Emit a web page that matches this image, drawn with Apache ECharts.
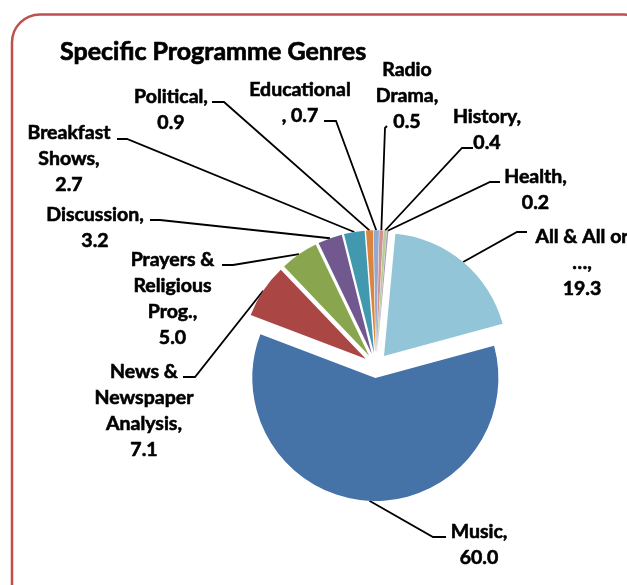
<!DOCTYPE html>
<html>
<head>
<meta charset="utf-8">
<title>Specific Programme Genres</title>
<script src="https://cdn.jsdelivr.net/npm/echarts@6/dist/echarts.min.js"></script>
<style>
  html, body { margin: 0; padding: 0; background: #ffffff; }
  #chart { width: 627px; height: 585px; }
</style>
</head>
<body>
<div id="chart"></div>
<script>
// ---- data -------------------------------------------------------------
const genres = [
  'Music', 'News & Newspaper Analysis', 'Prayers & Religious Prog.', 'Discussion',
  'Breakfast Shows', 'Political', 'Educational', 'Radio Drama', 'History', 'Health',
  'All & All or ...'
];
const shares = [60.0, 7.1, 5.0, 3.2, 2.7, 0.9, 0.7, 0.5, 0.4, 0.2, 19.3];

// wrapped label heads, the value is appended by the formatter
const labelHeads = [
  'Music,\n', 'News &\nNewspaper\nAnalysis,\n', 'Prayers &\nReligious\nProg.,\n',
  'Discussion,\n', 'Breakfast\nShows,\n', 'Political,\n', 'Educational\n, ',
  'Radio\nDrama,\n', 'History,\n', 'Health,\n', 'All & All or\n\u2026,\n'
];

// ---- styling / layout ---------------------------------------------------
const sliceColors = [
  '#4572A7', '#AA4643', '#89A54E', '#71588F', '#4198AF', '#DB843D',
  '#93A9CF', '#D19392', '#B9CD96', '#A99BBD', '#92C5D8'
];
const pieCenter = [376, 365.6];
const pieRadius = 123;
const explodeBy = 12.4;          // every slice is pulled out by this much
const firstSliceAngle = 74.8;    // clockwise from 12 o'clock

// label block: [centre x, first line centre y]; leader: [elbow, tail end]
const labelBoxes = [
  [479, 532], [144, 372], [172.5, 260], [95, 215], [69, 133], [171, 97],
  [300, 90], [407, 70], [487, 117], [535.5, 177], [582, 237]
];
const leaderBends = [
  [[433, 537], [446, 537]],
  [[195, 377], [183, 377]],
  [[233, 265], [222, 265]],
  [[160, 220], [150, 220]],
  [[127, 139], [117, 139]],
  [[224, 102], [212, 102]],
  [[336, 121], [324, 121]],
  [[385, 128], [387, 126]],
  [[462, 148], [473, 148]],
  [[490, 182], [500, 182]],
  [[517, 232], [527, 232]]
];
const labelFont = 'Lato';
const labelSize = 19.5;
const labelLineHeight = 26;

// ---- chart ----------------------------------------------------------------
const chart = echarts.init(document.getElementById('chart'), null, { renderer: 'canvas' });
const total = shares.reduce((a, b) => a + b, 0);

// one pie per slice: all values keep the angles, only slice i is painted
const series = [];
let before = 0;
shares.forEach((v, i) => {
  const mid = (firstSliceAngle + 360 * (before + v / 2) / total) * Math.PI / 180;
  before += v;
  const cx = pieCenter[0] + explodeBy * Math.sin(mid);
  const cy = pieCenter[1] - explodeBy * Math.cos(mid);
  series.push({
    type: 'pie',
    name: genres[i],
    center: [cx, cy],
    radius: [0, pieRadius],
    startAngle: 90 - firstSliceAngle,
    clockwise: true,
    avoidLabelOverlap: false,
    silent: true,
    animation: false,
    emphasis: { disabled: true },
    data: genres.map((g, j) => ({
      name: g,
      value: shares[j],
      itemStyle: {
        color: j === i ? sliceColors[j] : 'rgba(0,0,0,0)',
        borderWidth: 0
      },
      label: { show: j === i },
      labelLine: { show: j === i }
    })),
    label: {
      position: 'outside',
      formatter: p => labelHeads[p.dataIndex] + p.value.toFixed(1),
      color: '#000000',
      fontFamily: labelFont,
      fontWeight: 'bold',
      fontSize: labelSize,
      lineHeight: labelLineHeight,
      textBorderColor: '#000000',
      textBorderWidth: 0.6,
      align: 'center'
    },
    labelLine: {
      show: true,
      lineStyle: { color: '#000000', width: 1.8 }
    },
    labelLayout: params => {
      const j = params.dataIndex;
      if (j !== i) return {};
      const box = labelBoxes[j];
      const bend = leaderBends[j];
      const start = params.labelLinePoints ? params.labelLinePoints[0] : null;
      const out = {
        x: box[0],
        y: box[1] - labelLineHeight / 2,
        align: 'center',
        verticalAlign: 'top'
      };
      if (start) out.labelLinePoints = [start, bend[0], bend[1]];
      return out;
    }
  });
});

chart.setOption({
  backgroundColor: '#ffffff',
  animation: false,
  title: {
    text: 'Specific Programme Genres',
    left: 60,
    top: 37,
    padding: 0,
    textStyle: {
      fontFamily: labelFont,
      fontWeight: 'bold',
      fontSize: 25,
      lineHeight: 30,
      color: '#000000',
      textBorderColor: '#000000',
      textBorderWidth: 0.7
    }
  },
  graphic: [{
    type: 'rect',
    z: -10,
    silent: true,
    shape: { x: 12, y: 14.5, width: 640, height: 600, r: 28 },
    style: { fill: 'none', stroke: '#C0504D', lineWidth: 2.5 }
  }],
  series: series
});
</script>
</body>
</html>
